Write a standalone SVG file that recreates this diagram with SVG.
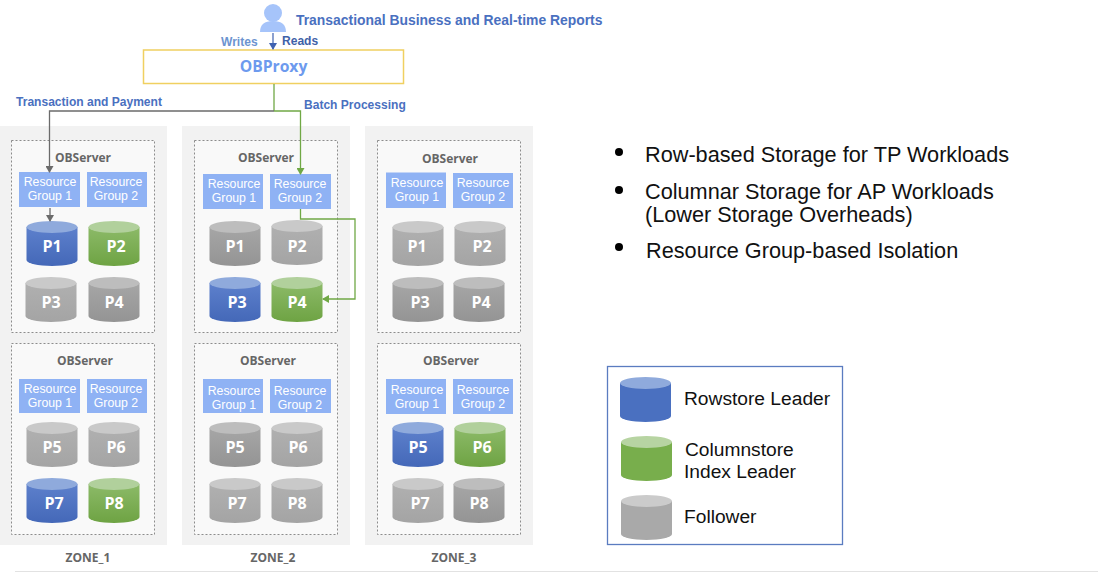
<svg xmlns="http://www.w3.org/2000/svg" width="1098" height="580" viewBox="0 0 1098 580">
<style>
text{font-family:"Liberation Sans",Arial,sans-serif}
.zone{fill:#f2f2f2}
.srv{fill:#f9f9f9;stroke:#8c8c8c;stroke-width:1;stroke-dasharray:2 2}
.srvt{font-family:"Open Sans","Noto Sans",sans-serif;font-size:12px;font-weight:700;fill:#666;text-anchor:middle}
.rg{fill:#8fb2f4}
.rgt{font-size:12.300px;fill:#fff;text-anchor:middle}
.p{font-family:"Open Sans","Noto Sans",sans-serif;font-size:16px;font-weight:700;fill:#fff;text-anchor:middle}
.lb{font-size:12.050px;font-weight:700;fill:#4a70c0}
.big{font-size:21.700px;fill:#111}
.leg{font-size:19.200px;fill:#111}
.gl{fill:none;stroke:#70a845;stroke-width:1.300}
.dl{fill:none;stroke:#6b6b6b;stroke-width:1.300}
</style>
<defs>
<linearGradient id="gb" x1="0" y1="0" x2="0" y2="1"><stop offset="0" stop-color="#5d80cc"/><stop offset="1" stop-color="#4468b8"/></linearGradient>
<linearGradient id="gg" x1="0" y1="0" x2="0" y2="1"><stop offset="0" stop-color="#8cba68"/><stop offset="1" stop-color="#6ea343"/></linearGradient>
<linearGradient id="gy" x1="0" y1="0" x2="0" y2="1"><stop offset="0" stop-color="#b0b0b0"/><stop offset="1" stop-color="#a4a4a4"/></linearGradient>
<linearGradient id="gd" x1="0" y1="0" x2="0" y2="1"><stop offset="0" stop-color="#a6a6a6"/><stop offset="1" stop-color="#949494"/></linearGradient>
<path id="body" d="M-25.500 6V39A25.500 6 0 0 0 25.500 39V6Z"/>
<g id="cb"><use href="#body" fill="url(#gb)"/><ellipse cy="6" rx="25.500" ry="6" fill="#8faadc"/></g>
<g id="cg"><use href="#body" fill="url(#gg)"/><ellipse cy="6" rx="25.500" ry="6" fill="#b1d09c"/></g>
<g id="cy"><use href="#body" fill="url(#gy)"/><ellipse cy="6" rx="25.500" ry="6" fill="#c9c9c9"/></g>
<g id="cd"><use href="#body" fill="url(#gd)"/><ellipse cy="6" rx="25.500" ry="6" fill="#bdbdbd"/></g>
<g id="lb"><use href="#body" fill="#4a70c0"/><ellipse cy="6" rx="25.500" ry="6" fill="#8faadc"/></g>
<g id="lg"><use href="#body" fill="#78ae4c"/><ellipse cy="6" rx="25.500" ry="6" fill="#b7d4a2"/></g>
<g id="ly"><use href="#body" fill="#a9a9a9"/><ellipse cy="6" rx="25.500" ry="6" fill="#cbcbcb"/></g>
<marker id="ma" markerWidth="8" markerHeight="8" refX="6" refY="4" orient="auto" markerUnits="userSpaceOnUse"><path d="M0 0L7 4L0 8Z" fill="#6b6b6b"/></marker>
<marker id="mg" markerWidth="8" markerHeight="8" refX="6" refY="4" orient="auto" markerUnits="userSpaceOnUse"><path d="M0 0L7 4L0 8Z" fill="#70a845"/></marker>
<marker id="mb" markerWidth="8" markerHeight="8" refX="6" refY="4" orient="auto" markerUnits="userSpaceOnUse"><path d="M0 0L7 4L0 8Z" fill="#3f62b0"/></marker>
</defs>
<rect width="1098" height="580" fill="#fff"/>

<g id="zone1"><rect class="zone" x="0" y="126" width="167" height="419"/><text class="srvt" x="88" y="562">ZONE_1</text></g>
<g id="zone2"><rect class="zone" x="182" y="126" width="168" height="419"/><text class="srvt" x="273" y="562">ZONE_2</text></g>
<g id="zone3"><rect class="zone" x="365" y="126" width="168" height="419"/><text class="srvt" x="454" y="562">ZONE_3</text></g>
<path d="M15 571.500H1098" stroke="#e2e2e2" stroke-width="1" fill="none"/>

<g id="user"><circle cx="273" cy="13" r="9" fill="#a6c4fa"/><path d="M260 32Q260 21 273 21Q286 21 286 32Z" fill="#a6c4fa"/></g>
<text id="title" class="lb" x="296" y="25" style="font-size:13.900px">Transactional Business and Real-time Reports</text>
<text class="lb" x="221" y="46" style="fill:#6d94d0">Writes</text>
<text class="lb" x="282" y="45" style="fill:#3f62a8">Reads</text>

<g id="obproxy"><rect x="143.500" y="50" width="260" height="33.500" fill="#fff" stroke="#f0d060" stroke-width="1.500"/><text x="273.500" y="72" text-anchor="middle" style="font-family:'Open Sans','Noto Sans',sans-serif;font-size:15.700px;font-weight:700;fill:#6d9aee">OBProxy</text></g>
<text class="lb" x="16" y="106">Transaction and Payment</text>
<text class="lb" x="304" y="109">Batch Processing</text>

<g id="s1"><rect class="srv" x="11.500" y="140.500" width="143" height="192"/><text class="srvt" x="83" y="162">OBServer</text>
<rect class="rg" x="19" y="172" width="61" height="35"/><text class="rgt" x="50" y="186">Resource</text><text class="rgt" x="50" y="200">Group 1</text>
<rect class="rg" x="87" y="172" width="60" height="35"/><text class="rgt" x="116" y="186">Resource</text><text class="rgt" x="116" y="200">Group 2</text>
<use href="#cb" x="52" y="221"/><text class="p" x="52" y="252">P1</text><use href="#cg" x="114" y="221"/><text class="p" x="116" y="252">P2</text>
<use href="#cy" x="51" y="277"/><text class="p" x="51" y="308">P3</text><use href="#cd" x="114" y="277"/><text class="p" x="114" y="308">P4</text></g>

<g id="s2"><rect class="srv" x="194.500" y="140.500" width="143" height="192"/><text class="srvt" x="266" y="162">OBServer</text>
<rect class="rg" x="203" y="174" width="60" height="35"/><text class="rgt" x="234" y="188">Resource</text><text class="rgt" x="234" y="202">Group 1</text>
<rect class="rg" x="270" y="174" width="61" height="35"/><text class="rgt" x="300" y="188">Resource</text><text class="rgt" x="300" y="202">Group 2</text>
<use href="#cd" x="235" y="221"/><text class="p" x="235" y="252">P1</text><use href="#cy" x="297" y="220"/><text class="p" x="297" y="252">P2</text>
<use href="#cb" x="235" y="277"/><text class="p" x="237" y="308">P3</text><use href="#cg" x="297" y="277"/><text class="p" x="297" y="308">P4</text></g>

<g id="s3"><rect class="srv" x="377.500" y="140.500" width="143" height="192"/><text class="srvt" x="450" y="163">OBServer</text>
<rect class="rg" x="386" y="172.500" width="60" height="35.500"/><text class="rgt" x="417" y="187">Resource</text><text class="rgt" x="417" y="201">Group 1</text>
<rect class="rg" x="453" y="173" width="60" height="35"/><text class="rgt" x="483" y="187">Resource</text><text class="rgt" x="483" y="201">Group 2</text>
<use href="#cy" x="418" y="221"/><text class="p" x="417" y="252">P1</text><use href="#cy" x="480" y="221"/><text class="p" x="482" y="252">P2</text>
<use href="#cd" x="418" y="277"/><text class="p" x="420" y="308">P3</text><use href="#cd" x="479" y="277"/><text class="p" x="481" y="308">P4</text></g>

<g id="s4"><rect class="srv" x="11.500" y="343.500" width="143" height="191"/><text class="srvt" x="85" y="365">OBServer</text>
<rect class="rg" x="19" y="379" width="61" height="34"/><text class="rgt" x="50" y="393">Resource</text><text class="rgt" x="50" y="407">Group 1</text>
<rect class="rg" x="87" y="379" width="60" height="34"/><text class="rgt" x="116" y="393">Resource</text><text class="rgt" x="116" y="407">Group 2</text>
<use href="#cy" x="52" y="422"/><text class="p" x="52" y="453">P5</text><use href="#cy" x="114" y="422"/><text class="p" x="116" y="453">P6</text>
<use href="#cb" x="52" y="478"/><text class="p" x="54" y="509">P7</text><use href="#cg" x="114" y="478"/><text class="p" x="114" y="509">P8</text></g>

<g id="s5"><rect class="srv" x="194.500" y="343.500" width="143" height="191"/><text class="srvt" x="268" y="365">OBServer</text>
<rect class="rg" x="203" y="379" width="60" height="34"/><text class="rgt" x="234" y="395">Resource</text><text class="rgt" x="234" y="409">Group 1</text>
<rect class="rg" x="270" y="379" width="61" height="34"/><text class="rgt" x="300" y="395">Resource</text><text class="rgt" x="300" y="409">Group 2</text>
<use href="#cd" x="235" y="422"/><text class="p" x="235" y="453">P5</text><use href="#cy" x="297" y="422"/><text class="p" x="298" y="453">P6</text>
<use href="#cy" x="235" y="478"/><text class="p" x="237" y="509">P7</text><use href="#cy" x="297" y="478"/><text class="p" x="297" y="509">P8</text></g>

<g id="s6"><rect class="srv" x="377.500" y="343.500" width="143" height="191"/><text class="srvt" x="451" y="365">OBServer</text>
<rect class="rg" x="386" y="379" width="60" height="35"/><text class="rgt" x="417" y="394">Resource</text><text class="rgt" x="417" y="408">Group 1</text>
<rect class="rg" x="453" y="379" width="60" height="35"/><text class="rgt" x="483" y="394">Resource</text><text class="rgt" x="483" y="408">Group 2</text>
<use href="#cb" x="418" y="422"/><text class="p" x="418" y="453">P5</text><use href="#cg" x="480" y="422"/><text class="p" x="482" y="453">P6</text>
<use href="#cy" x="418" y="478"/><text class="p" x="420" y="509">P7</text><use href="#cd" x="479" y="478"/><text class="p" x="479" y="509">P8</text></g>

<g id="connectors">
<path d="M273 33V49" fill="none" stroke="#3f62b0" stroke-width="1.200" marker-end="url(#mb)"/>
<path class="gl" d="M274 84V111"/>
<path class="dl" d="M274 111H49.500V172" marker-end="url(#ma)"/>
<path class="gl" d="M274 111H300.500V174" marker-end="url(#mg)"/>
<path class="dl" d="M50 208V221" marker-end="url(#ma)"/>
<path class="gl" d="M300.500 209V219H355V299H323" marker-end="url(#mg)"/>
</g>

<g id="notes">
<circle cx="619" cy="152" r="4" fill="#000"/><circle cx="619" cy="190" r="4" fill="#000"/><circle cx="619" cy="247" r="4" fill="#000"/>
<text class="big" x="645" y="162">Row-based Storage for TP Workloads</text>
<text class="big" x="645" y="199">Columnar Storage for AP Workloads</text>
<text class="big" x="645" y="222">(Lower Storage Overheads)</text>
<text class="big" x="646" y="258">Resource Group-based Isolation</text>
</g>

<g id="legend"><rect x="607.500" y="366.500" width="235" height="178" fill="#fff" stroke="#5a7cc0" stroke-width="1.300"/>
<use href="#lb" x="645.500" y="377"/><use href="#lg" x="646.500" y="436"/><use href="#ly" x="646.500" y="495"/>
<text class="leg" x="684" y="405">Rowstore Leader</text>
<text class="leg" x="685" y="456">Columnstore</text>
<text class="leg" x="684" y="478">Index Leader</text>
<text class="leg" x="684" y="523">Follower</text>
</g>
</svg>
